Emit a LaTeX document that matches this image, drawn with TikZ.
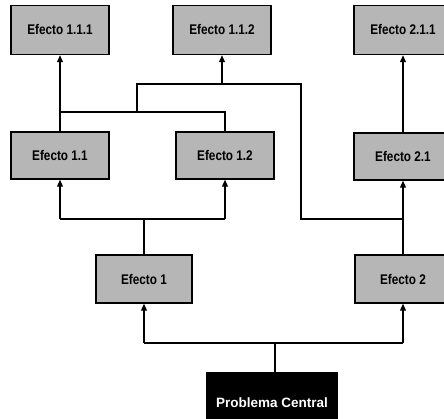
\documentclass[tikz,border=0pt]{standalone}
\usepackage{fontspec}
\setmainfont{Liberation Sans}
\newfontfamily\boxfont[FakeStretch=0.84]{Liberation Sans}
\usetikzlibrary{arrows.meta}
\definecolor{boxgray}{RGB}{182,182,182}
\tikzset{
  effect/.style={draw=black, line width=1.5pt, fill=boxgray, minimum width=98pt,
    minimum height=49pt, inner sep=0pt, font=\boxfont\bfseries\fontsize{14}{16}\selectfont},
  central/.style={draw=black, line width=1.5pt, fill=black, text=white, minimum width=130pt,
    minimum height=60pt, inner sep=0pt, font=\bfseries\fontsize{13.5}{16}\selectfont},
  link/.style={line width=1.2pt, draw=black},
  up/.style={link, -{Triangle[width=6pt,length=7pt]}}
}
\begin{document}
\begin{tikzpicture}[x=1pt, y=-1pt]
\clip (0,0) rectangle (444,419);
\fill[white] (0,0) rectangle (444,419);

% effect boxes, top row
\node[effect] (e111) at (60,30) {Efecto 1.1.1};
\node[effect] (e112) at (222,30) {Efecto 1.1.2};
\node[effect] (e211) at (403,30) {Efecto 2.1.1};
% middle row
\node[effect, minimum height=47pt] (e11) at (60,155.5) {Efecto 1.1};
\node[effect, minimum height=47pt] (e12) at (225,155.5) {Efecto 1.2};
\node[effect, minimum height=47pt] (e21) at (403,156.5) {Efecto 2.1};
% first level
\node[effect, minimum width=96pt, minimum height=48pt] (e1) at (144,279) {Efecto 1};
\node[effect, minimum width=96pt, minimum height=48pt] (e2) at (403,279) {Efecto 2};
% central problem
\node[central] (pc) at (272,403) {Problema\ Central};

% junction points
\coordinate (j0) at (275,343);
\coordinate (jl) at (144,343);
\coordinate (jr) at (403,343);
\coordinate (k0) at (144,219);
\coordinate (kl) at (60,219);
\coordinate (kr) at (225,219);
\coordinate (m2) at (403,219);
\coordinate (mr) at (301,219);
\coordinate (mt) at (301,84);
\coordinate (ml) at (137,84);
\coordinate (mc) at (222,84);
\coordinate (h0) at (137,112);
\coordinate (hl) at (60,112);
\coordinate (hr) at (225,112);

% central problem to first-level effects
\draw[link] (pc.north -| j0) -- (j0);
\draw[link] (jl) -- (jr);
\draw[up] (jl) -- (e1.south);
\draw[up] (jr) -- (e2.south);

% Efecto 1 to its effects
\draw[link] (e1.north) -- (k0);
\draw[link] (kl) -- (kr);
\draw[up] (kl) -- (e11.south);
\draw[up] (kr) -- (e12.south);

% Efecto 2 to Efecto 2.1 and the shared branch
\draw[up] (e2.north) -- (e21.south);
\draw[link] (m2) -- (mr) -- (mt) -- (ml) -- (h0);
\draw[up] (mc) -- (e112.south);

% Efecto 1.1 / 1.2 joined towards the top row
\draw[link] (hl) -- (hr) -- (e12.north -| hr);
\draw[up] (e11.north) -- (e111.south);
\draw[up] (e21.north) -- (e211.south);
\end{tikzpicture}
\end{document}
